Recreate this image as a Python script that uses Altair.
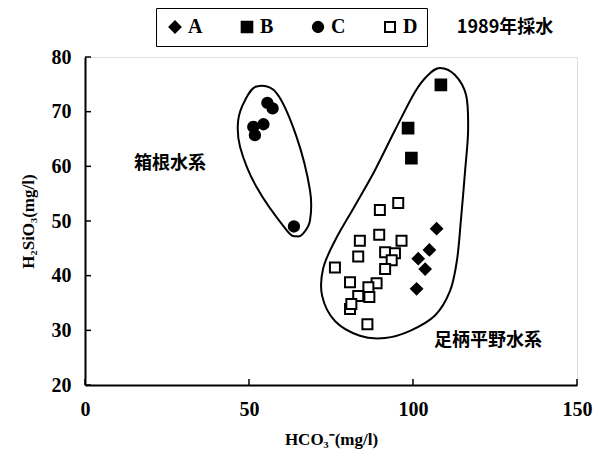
import altair as alt
import pandas as pd

# --- data ---
a_x = [107.2, 105.0, 101.6, 103.7, 101.1]
a_y = [48.6, 44.7, 43.1, 41.2, 37.6]
b_x = [108.5, 98.5, 99.5]
b_y = [74.9, 67.0, 61.5]
c_x = [55.6, 57.2, 54.4, 51.3, 51.8, 63.7]
c_y = [71.6, 70.6, 67.7, 67.2, 65.7, 49.0]
d_x = [95.5, 89.9, 89.7, 83.8, 96.5, 83.3, 91.5, 94.5, 93.5, 91.5,
       76.2, 80.8, 88.9, 86.4, 83.3, 86.7, 80.8, 81.2, 86.1]
d_y = [53.3, 52.0, 47.5, 46.4, 46.4, 43.5, 44.3, 44.1, 42.8, 41.2,
       41.5, 38.8, 38.6, 37.9, 36.3, 36.1, 33.9, 34.8, 31.1]

series = ["A", "B", "C", "D"]

# enclosure outlines (data units)
hakone_x = [52.3, 58.4, 64.5, 68.6, 68.6, 66.5, 64.5, 61.5, 52.3, 47.3, 46.7, 48.8]
hakone_y = [74.6, 73.4, 65.4, 55.6, 50.1, 47.7, 47.2, 48.3, 56.2, 63.5, 68.4, 72.1]
ashi_x = [108.2, 112.8, 116.2, 116.8, 115.9, 114.6, 113.4, 111.3, 106.7, 99.1, 91.5,
          83.8, 76.2, 72.3, 72.6, 76.2, 82.3, 88.4, 94.5, 100.6, 104.6]
ashi_y = [78.0, 76.7, 73.0, 66.6, 59.3, 50.1, 42.8, 37.2, 32.7, 29.9, 28.6,
          29.0, 31.7, 36.3, 41.3, 46.4, 52.8, 59.3, 66.6, 73.6, 76.7]

labels = ["箱根水系", "足柄平野水系"]
label_x = [25.9, 122.9]
label_y = [60.5, 28.1]

x_ticks = [0, 50, 100, 150]
y_ticks = [20, 30, 40, 50, 60, 70, 80]

rows = []
for name, xs, ys in zip(series, [a_x, b_x, c_x, d_x], [a_y, b_y, c_y, d_y]):
    for x, y in zip(xs, ys):
        rows.append({"s": name, "x": x, "y": y})
pts = pd.DataFrame(rows)

outline = pd.DataFrame(
    [{"g": "h", "i": i, "x": x, "y": y} for i, (x, y) in enumerate(zip(hakone_x, hakone_y))]
    + [{"g": "a", "i": i, "x": x, "y": y} for i, (x, y) in enumerate(zip(ashi_x, ashi_y))]
)
lab = pd.DataFrame({"t": labels, "x": label_x, "y": label_y})
xt = pd.DataFrame({"v": x_ticks})
yt = pd.DataFrame({"v": y_ticks})

serif = "Liberation Serif"
cjk = "Noto Sans CJK JP"

xsc = alt.Scale(domain=[0, 150], nice=False, zero=False)
ysc = alt.Scale(domain=[20, 80], nice=False, zero=False)

xax = alt.Axis(values=x_ticks, title="HCO₃⁻(mg/l)", grid=False, ticks=False,
               labelPadding=14, labelFontSize=20, labelFont=serif, labelFontWeight="bold",
               titleFont=serif, titleFontSize=17, titleFontWeight="bold", titlePadding=12,
               domainColor="black", domainWidth=2,
               labelColor="black", titleColor="black", labelFlush=False)
yax = alt.Axis(values=y_ticks, title="H₂SiO₃(mg/l)", grid=False, ticks=False,
               labelPadding=14, labelFontSize=20, labelFont=serif, labelFontWeight="bold",
               titleFont=serif, titleFontSize=17, titleFontWeight="bold", titlePadding=14,
               domainColor="black", domainWidth=2,
               labelColor="black", titleColor="black", labelFlush=False)

lines = alt.Chart(outline).mark_line(color="black", strokeWidth=2, interpolate="cardinal-closed").encode(
    x=alt.X("x:Q", scale=xsc, axis=xax),
    y=alt.Y("y:Q", scale=ysc, axis=yax),
    detail="g:N",
    order="i:Q",
)

xticks = alt.Chart(xt).mark_rule(color="black", strokeWidth=1.5).encode(
    x=alt.X("v:Q", scale=xsc), y=alt.value(322), y2=alt.value(328)
)
yticks = alt.Chart(yt).mark_rule(color="black", strokeWidth=1.5).encode(
    y=alt.Y("v:Q", scale=ysc), x=alt.value(0), x2=alt.value(6)
)

leg = alt.Legend(title=None, orient="none", direction="horizontal",
                 legendX=71, legendY=-49, strokeColor="black",
                 padding=9, columnPadding=34, labelFont=serif,
                 labelFontSize=20, labelFontWeight="bold",
                 labelColor="black", symbolStrokeWidth=2, labelOffset=3)

points = alt.Chart(pts).mark_point(filled=True, strokeWidth=2, opacity=1).encode(
    x=alt.X("x:Q", scale=xsc),
    y=alt.Y("y:Q", scale=ysc),
    shape=alt.Shape("s:N", scale=alt.Scale(domain=series,
                    range=["diamond", "square", "circle", "square"]), legend=leg),
    fill=alt.Fill("s:N", scale=alt.Scale(domain=series,
                  range=["black", "black", "black", "white"]), legend=leg),
    stroke=alt.Stroke("s:N", scale=alt.Scale(domain=series,
                      range=["black", "black", "black", "black"]), legend=leg),
    size=alt.Size("s:N", scale=alt.Scale(domain=series, range=[120, 100, 160, 90]), legend=leg),
)

texts = alt.Chart(lab).mark_text(font=cjk, fontSize=18, fontWeight="bold", color="black").encode(
    x=alt.X("x:Q", scale=xsc),
    y=alt.Y("y:Q", scale=ysc),
    text="t:N",
)

title = alt.Chart(pd.DataFrame({"t": ["1989年採水"]})).mark_text(
    font=cjk, fontSize=18, fontWeight="bold", color="black"
).encode(x=alt.value(420), y=alt.value(-29), text="t:N")

chart = alt.layer(lines, xticks, yticks, points, texts, title).properties(
    width=492, height=328,
    autosize=alt.AutoSizeParams(type="none"),
    padding={"left": 85, "top": 57, "right": 27, "bottom": 79},
).configure_view(stroke="black", strokeWidth=2).configure(background="white")

chart.save("out.html", embed_options={"renderer": "svg", "actions": False})
